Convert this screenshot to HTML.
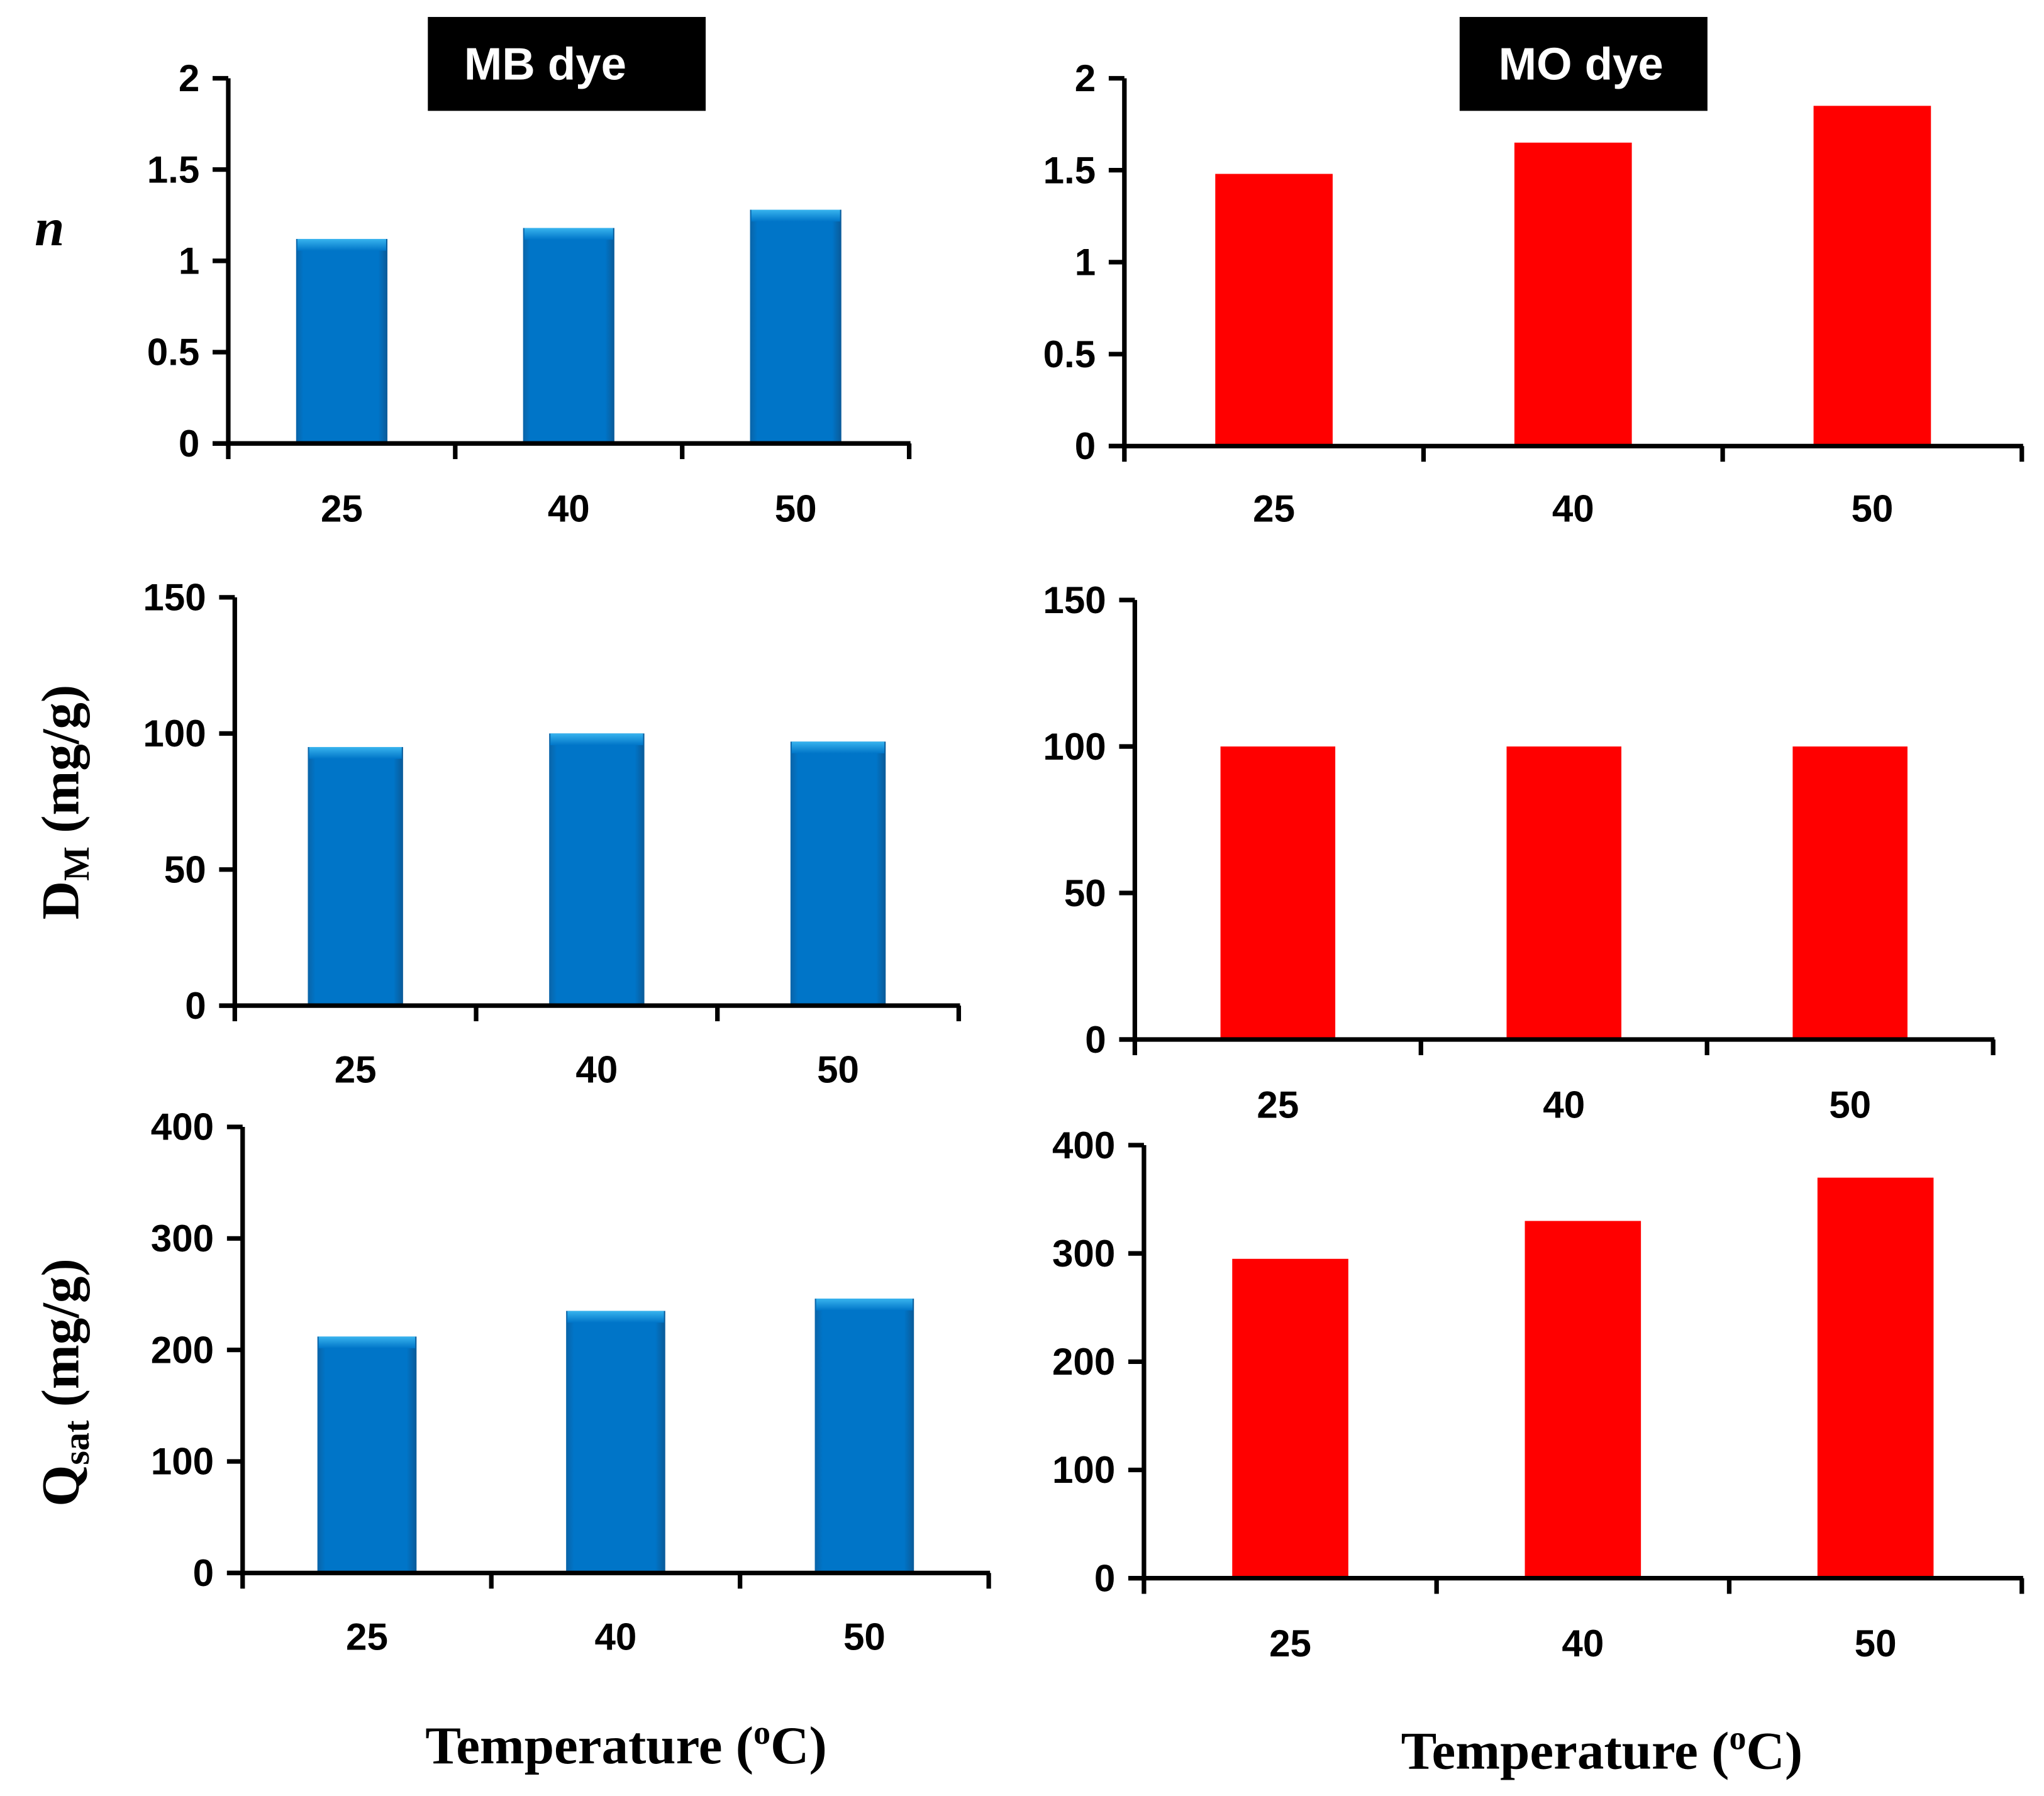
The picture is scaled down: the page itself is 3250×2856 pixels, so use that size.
<!DOCTYPE html>
<html><head><meta charset="utf-8"><style>
html,body{margin:0;padding:0;background:#fff;}
svg{display:block;}
.tick{font-family:"Liberation Sans",sans-serif;font-weight:bold;font-size:29px;fill:#000;}
.ttl{font-family:"Liberation Serif",serif;font-weight:bold;font-size:41px;fill:#000;}
</style></head><body>
<svg id="chart" width="3250" height="2856" viewBox="0 0 1567 1377" preserveAspectRatio="none" xmlns="http://www.w3.org/2000/svg">
<defs>
<linearGradient id="blueG" x1="0" y1="0" x2="1" y2="0">
<stop offset="0" stop-color="#0a64a8"/><stop offset="0.08" stop-color="#0075c8"/><stop offset="0.9" stop-color="#0075c8"/><stop offset="1" stop-color="#0a5a98"/>
</linearGradient>
<linearGradient id="hiG" x1="0" y1="0" x2="0" y2="1">
<stop offset="0" stop-color="#38b4ee"/><stop offset="1" stop-color="#0075c8"/>
</linearGradient>
</defs>
<g><rect x="328" y="13" width="213" height="72" fill="#000"/><text x="418" y="61" text-anchor="middle" fill="#fff" font-family="Liberation Sans,sans-serif" font-weight="bold" font-size="35">MB dye</text></g>
<g><rect x="1119" y="13" width="190" height="72" fill="#000"/><text x="1212" y="61" text-anchor="middle" fill="#fff" font-family="Liberation Sans,sans-serif" font-weight="bold" font-size="35">MO dye</text></g>
<text class="ttl" x="38" y="188" text-anchor="middle" font-style="italic">n</text>
<text class="ttl" transform="translate(60,615) rotate(-90)" text-anchor="middle">D<tspan font-size="28" dy="8">M</tspan><tspan dy="-8"> (mg/g)</tspan></text>
<text class="ttl" transform="translate(60,1060) rotate(-90)" text-anchor="middle">Q<tspan font-size="28" dy="8">sat</tspan><tspan dy="-8"> (mg/g)</tspan></text>
<text class="ttl" x="480" y="1352" text-anchor="middle">Temperature (<tspan font-size="26" dy="-15">o</tspan><tspan dy="15">C)</tspan></text>
<text class="ttl" x="1228" y="1356" text-anchor="middle">Temperature (<tspan font-size="26" dy="-15">o</tspan><tspan dy="15">C)</tspan></text>
</svg>
<script>
const categories = ["25","40","50"];
const mbN = [1.12, 1.18, 1.28];
const moN = [1.48, 1.65, 1.85];
const mbDM = [95, 100, 97];
const moDM = [100, 100, 100];
const mbQ = [212, 235, 246];
const moQ = [295, 330, 370];
const nTicks = ["0","0.5","1","1.5","2"];
const dmTicks = ["0","50","100","150"];
const qTicks = ["0","100","200","300","400"];

const panels = [
 {name:"mb-n", vals:mbN, ticks:nTicks, max:2, x0:175, x1:697, yTop:60, y0:340, bw:70, color:"url(#blueG)", ly:400},
 {name:"mo-n", vals:moN, ticks:nTicks, max:2, x0:862, x1:1550, yTop:60, y0:342, bw:90, color:"#ff0000", ly:400},
 {name:"mb-dm", vals:mbDM, ticks:dmTicks, max:150, x0:180, x1:735, yTop:458, y0:771, bw:73, color:"url(#blueG)", ly:830},
 {name:"mo-dm", vals:moDM, ticks:dmTicks, max:150, x0:870, x1:1528, yTop:460, y0:797, bw:88, color:"#ff0000", ly:857},
 {name:"mb-qsat", vals:mbQ, ticks:qTicks, max:400, x0:186, x1:758, yTop:864, y0:1206, bw:76, color:"url(#blueG)", ly:1265},
 {name:"mo-qsat", vals:moQ, ticks:qTicks, max:400, x0:877, x1:1550, yTop:878, y0:1210, bw:89, color:"#ff0000", ly:1270}
];
const svg = document.getElementById('chart');
const NS = "http://www.w3.org/2000/svg";
function mk(tag, attrs){const e=document.createElementNS(NS,tag);for(const k in attrs)e.setAttribute(k,attrs[k]);return e;}
panels.forEach(p=>{
  const g = mk('g',{});
  
  
  svg.appendChild(g);
  const yS = v => p.y0 - (v/p.max)*(p.y0-p.yTop);
  const n = categories.length;
  const cw = (p.x1-p.x0)/n;
  const xC = i => p.x0 + cw*(i+0.5);
  p.vals.forEach((v,i)=>{
    const r = mk('rect',{x:xC(i)-p.bw/2, y:yS(v), width:p.bw, height:p.y0-yS(v), fill:p.color});
    
    
    g.appendChild(r);
    if(p.color!=="#ff0000"){
      const h = mk('rect',{x:xC(i)-p.bw/2+1, y:yS(v), width:p.bw-2, height:9, fill:"url(#hiG)"});
      
      
      g.appendChild(h);
    }
    const t = mk('text',{x:xC(i), y:p.ly, 'text-anchor':'middle', class:'tick'});
    t.textContent = categories[i];
    
    
    g.appendChild(t);
  });
  const ya = mk('line',{x1:p.x0,y1:p.yTop,x2:p.x0,y2:p.y0+2,stroke:'#000','stroke-width':3.5});
  
  
  g.appendChild(ya);
  const xa = mk('line',{x1:p.x0-12,y1:p.y0,x2:p.x1+1,y2:p.y0,stroke:'#000','stroke-width':3.5});
  
  
  g.appendChild(xa);
  for(let i=0;i<=n;i++){
    const x = p.x0 + cw*i;
    g.appendChild(mk('line',{x1:x,y1:p.y0,x2:x,y2:p.y0+12,stroke:'#000','stroke-width':3.5}));
  }
  p.ticks.forEach((lab,i)=>{
    const v = p.max*i/(p.ticks.length-1);
    const y = yS(v);
    g.appendChild(mk('line',{x1:p.x0-12,y1:y,x2:p.x0,y2:y,stroke:'#000','stroke-width':3.5}));
    const t = mk('text',{x:p.x0-22, y:y+10, 'text-anchor':'end', class:'tick'});
    t.textContent = lab;
    
    
    g.appendChild(t);
  });
});
</script>
</body></html>
